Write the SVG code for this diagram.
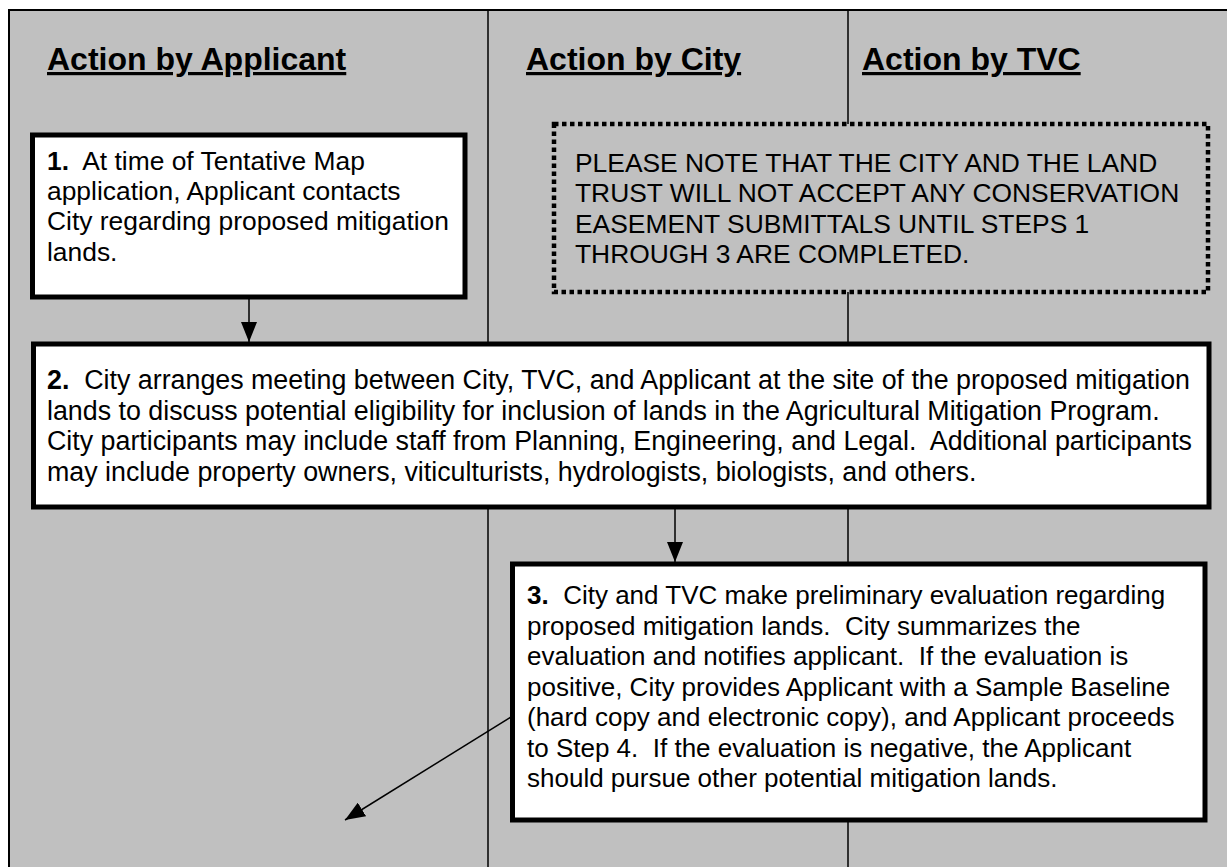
<svg xmlns="http://www.w3.org/2000/svg" width="1227" height="867" viewBox="0 0 1227 867">
<style>
.t{font-family:"Liberation Sans",Arial,sans-serif;font-size:26px;fill:#000;white-space:pre}
.t1{font-size:26.4px}
.t2{font-size:26.8px}
.h{font-family:"Liberation Sans",Arial,sans-serif;font-size:32px;font-weight:bold;fill:#000;text-decoration:underline}
.b{font-weight:bold}
.box{fill:#fff;stroke:#000;stroke-width:5}
.lane{stroke:#000;stroke-width:1.5}
.conn{stroke:#000;stroke-width:1.5;fill:none;marker-end:url(#ah)}
</style>
<defs>
<marker id="ah" viewBox="0 0 20 16" refX="20" refY="8" markerWidth="20" markerHeight="16" markerUnits="userSpaceOnUse" orient="auto">
<path d="M0,0 L20,8 L0,16 z" fill="#000"/>
</marker>
</defs>
<g id="background">
<rect x="9" y="10" width="1230" height="870" fill="#c0c0c0" stroke="#000" stroke-width="2"/>
<line class="lane" x1="488" y1="10" x2="488" y2="867"/>
<line class="lane" x1="848" y1="10" x2="848" y2="867"/>
<text class="h" x="47" y="70">Action by Applicant</text>
<text class="h" x="526" y="70">Action by City</text>
<text class="h" x="862" y="70">Action by TVC</text>
</g>
<g id="connectors">
<line class="conn" x1="249" y1="297" x2="249" y2="342"/>
<line class="conn" x1="675" y1="507" x2="675" y2="562"/>
<line class="conn" x1="511" y1="717" x2="345" y2="820"/>
</g>
<g id="note">
<rect x="554" y="124" width="654" height="168" fill="#c0c0c0" stroke="#000" stroke-width="4.5" stroke-dasharray="4.5 3.5"/>
<text class="t t1" x="575" y="172">PLEASE NOTE THAT THE CITY AND THE LAND</text>
<text class="t t1" x="575" y="202">TRUST WILL NOT ACCEPT ANY CONSERVATION</text>
<text class="t t1" x="575" y="233">EASEMENT SUBMITTALS UNTIL STEPS 1</text>
<text class="t t1" x="575" y="263">THROUGH 3 ARE COMPLETED.</text>
</g>
<g id="step1">
<rect class="box" x="32.5" y="135" width="432.5" height="162"/>
<text class="t t1" x="47" y="170"><tspan class="b">1.</tspan>  At time of Tentative Map</text>
<text class="t t1" x="47" y="200">application, Applicant contacts</text>
<text class="t t1" x="47" y="230">City regarding proposed mitigation</text>
<text class="t t1" x="47" y="261">lands.</text>
</g>
<g id="step2">
<rect class="box" x="33.5" y="344" width="1175.5" height="163"/>
<text class="t t2" x="47" y="389"><tspan class="b">2.</tspan>  City arranges meeting between City, TVC, and Applicant at the site of the proposed mitigation</text>
<text class="t t2" x="47" y="420">lands to discuss potential eligibility for inclusion of lands in the Agricultural Mitigation Program.</text>
<text class="t t2" x="47" y="450">City participants may include staff from Planning, Engineering, and Legal.  Additional participants</text>
<text class="t t2" x="47" y="481">may include property owners, viticulturists, hydrologists, biologists, and others.</text>
</g>
<g id="step3">
<rect class="box" x="512.5" y="564" width="692.5" height="256"/>
<text class="t" x="527" y="604"><tspan class="b">3.</tspan>  City and TVC make preliminary evaluation regarding</text>
<text class="t" x="527" y="635">proposed mitigation lands.  City summarizes the</text>
<text class="t" x="527" y="665">evaluation and notifies applicant.  If the evaluation is</text>
<text class="t" x="527" y="696">positive, City provides Applicant with a Sample Baseline</text>
<text class="t" x="527" y="726">(hard copy and electronic copy), and Applicant proceeds</text>
<text class="t" x="527" y="757">to Step 4.  If the evaluation is negative, the Applicant</text>
<text class="t" x="527" y="787">should pursue other potential mitigation lands.</text>
</g>
</svg>
